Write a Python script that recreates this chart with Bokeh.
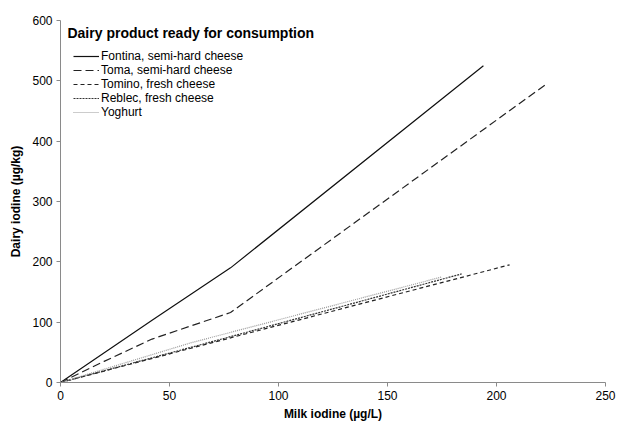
from bokeh.plotting import figure
from bokeh.models import Range1d, Legend, LegendItem, Label, SingleIntervalTicker
from bokeh.embed import file_html
from bokeh.resources import INLINE

# Data (milk iodine µg/L -> dairy iodine µg/kg)
fontina_x = [0, 42, 78, 194]
fontina_y = [0, 103, 190, 525]
toma_x = [0, 20, 42, 78, 223]
toma_y = [0, 35, 72, 116, 495]
tomino_x = [0, 78, 206]
tomino_y = [0, 74, 195]
reblec_x = [0, 78, 184]
reblec_y = [0, 76, 180]
yoghurt_x = [0, 60, 175]
yoghurt_y = [0, 66, 175]

labels = ["Fontina, semi-hard cheese", "Toma, semi-hard cheese", "Tomino, fresh cheese",
          "Reblec, fresh cheese", "Yoghurt"]

FONT = "Liberation Sans"

p = figure(width=620, height=423, output_backend="svg", toolbar_location=None,
           x_range=Range1d(0, 250), y_range=Range1d(0, 600),
           min_border_left=60, min_border_right=15, min_border_top=20, min_border_bottom=40)
p.outline_line_color = None
p.xgrid.visible = False
p.ygrid.visible = False

for ax in (p.xaxis[0], p.yaxis[0]):
    ax.axis_line_color = "#8a8a8a"
    ax.major_tick_line_color = "#8a8a8a"
    ax.minor_tick_line_color = None
    ax.major_tick_out = 4
    ax.major_tick_in = 0
    ax.major_label_text_font = FONT
    ax.major_label_text_font_size = "12px"
    ax.major_label_text_color = "#000000"
    ax.axis_label_text_font = FONT
    ax.axis_label_text_font_size = "12px"
    ax.axis_label_text_font_style = "bold"
    ax.axis_label_text_color = "#000000"
    ax.major_label_standoff = 4

p.xaxis[0].ticker = SingleIntervalTicker(interval=50)
p.yaxis[0].ticker = SingleIntervalTicker(interval=100)
p.xaxis[0].axis_label = "Milk iodine (µg/L)"
p.yaxis[0].axis_label = "Dairy iodine (µg/kg)"
p.xaxis[0].axis_label_standoff = 4
p.yaxis[0].axis_label_standoff = 6

r1 = p.line(fontina_x, fontina_y, line_color="#111111", line_width=1.2)
r2 = p.line(toma_x, toma_y, line_color="#222222", line_width=1.2, line_dash="8 4")
r3 = p.line(tomino_x, tomino_y, line_color="#222222", line_width=1.2, line_dash="4 3")
r4 = p.line(reblec_x, reblec_y, line_color="#333333", line_width=1.2, line_dash="2 1")
r5 = p.line(yoghurt_x, yoghurt_y, line_color="#999999", line_width=1.2, line_dash="1 1")

legend = Legend(items=[LegendItem(label=l, renderers=[r]) for l, r in zip(labels, [r1, r2, r3, r4, r5])],
                location=(13, 263), padding=0, margin=0, spacing=0,
                label_height=12, glyph_height=12, glyph_width=26, label_standoff=2,
                label_text_font=FONT, label_text_font_size="12px", label_text_color="#000000",
                border_line_alpha=0, background_fill_alpha=0)
p.add_layout(legend)

title = Label(x=3.2, y=580, text="Dairy product ready for consumption", text_font=FONT,
              text_font_size="14px", text_font_style="bold", text_baseline="middle",
              text_color="#000000")
p.add_layout(title)

open("out.html", "w").write(file_html(p, INLINE))
